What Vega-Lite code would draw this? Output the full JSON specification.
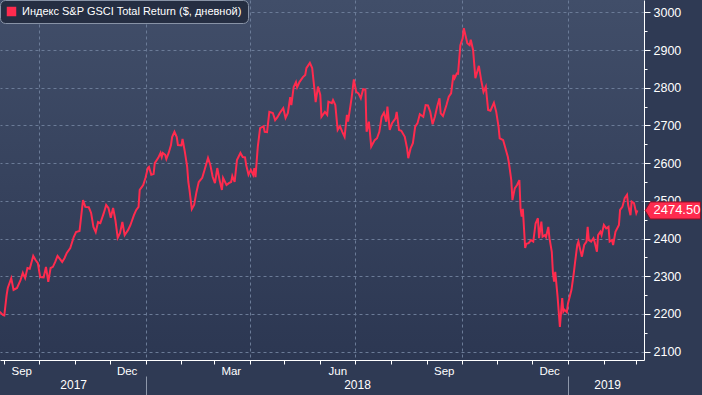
{
  "$schema": "https://vega.github.io/schema/vega-lite/v6.json",
  "width": 644,
  "height": 360,
  "autosize": {"type": "none"},
  "padding": {"left": 0, "top": 0, "right": 58, "bottom": 35},
  "background": "#2f3a54",
  "config": {
    "font": "Liberation Sans",
    "view": {
      "stroke": null,
      "fill": {"gradient": "linear", "x1": 0, "y1": 0, "x2": 0, "y2": 1,
        "stops": [{"offset": 0, "color": "#414e69"}, {"offset": 1, "color": "#2c3752"}]}
    }
  },
  "datasets": {
    "series": [
      {"date":"2017-08-28","value":2206},{"date":"2017-08-31","value":2197},{"date":"2017-09-01","value":2196},{"date":"2017-09-03","value":2250},{"date":"2017-09-04","value":2269},{"date":"2017-09-07","value":2295},{"date":"2017-09-09","value":2264},{"date":"2017-09-12","value":2269},{"date":"2017-09-15","value":2290},{"date":"2017-09-17","value":2309},{"date":"2017-09-19","value":2295},{"date":"2017-09-21","value":2322},{"date":"2017-09-23","value":2320},{"date":"2017-09-26","value":2354},{"date":"2017-09-28","value":2343},{"date":"2017-09-30","value":2335},
      {"date":"2017-10-02","value":2298},{"date":"2017-10-05","value":2297},{"date":"2017-10-07","value":2325},{"date":"2017-10-09","value":2285},{"date":"2017-10-11","value":2322},{"date":"2017-10-13","value":2325},{"date":"2017-10-15","value":2338},{"date":"2017-10-17","value":2354},{"date":"2017-10-19","value":2346},{"date":"2017-10-21","value":2338},{"date":"2017-10-23","value":2348},{"date":"2017-10-25","value":2362},{"date":"2017-10-28","value":2375},{"date":"2017-10-31","value":2404},
      {"date":"2017-11-02","value":2417},{"date":"2017-11-05","value":2420},{"date":"2017-11-08","value":2502},{"date":"2017-11-10","value":2484},{"date":"2017-11-13","value":2483},{"date":"2017-11-15","value":2468},{"date":"2017-11-17","value":2431},{"date":"2017-11-19","value":2417},{"date":"2017-11-21","value":2444},{"date":"2017-11-23","value":2441},{"date":"2017-11-26","value":2468},{"date":"2017-11-28","value":2489},{"date":"2017-11-30","value":2481},
      {"date":"2017-12-02","value":2455},{"date":"2017-12-04","value":2481},{"date":"2017-12-06","value":2449},{"date":"2017-12-08","value":2402},{"date":"2017-12-10","value":2415},{"date":"2017-12-12","value":2444},{"date":"2017-12-14","value":2409},{"date":"2017-12-17","value":2423},{"date":"2017-12-19","value":2436},{"date":"2017-12-22","value":2462},{"date":"2017-12-24","value":2476},{"date":"2017-12-26","value":2484},{"date":"2017-12-27","value":2529},{"date":"2017-12-30","value":2542},
      {"date":"2018-01-01","value":2561},{"date":"2018-01-03","value":2587},{"date":"2018-01-04","value":2590},{"date":"2018-01-06","value":2569},{"date":"2018-01-08","value":2571},{"date":"2018-01-09","value":2600},{"date":"2018-01-12","value":2614},{"date":"2018-01-14","value":2627},{"date":"2018-01-15","value":2616},{"date":"2018-01-16","value":2627},{"date":"2018-01-18","value":2622},{"date":"2018-01-19","value":2611},{"date":"2018-01-21","value":2627},{"date":"2018-01-23","value":2648},{"date":"2018-01-24","value":2669},{"date":"2018-01-26","value":2683},{"date":"2018-01-28","value":2669},{"date":"2018-01-29","value":2648},
      {"date":"2018-02-01","value":2647},{"date":"2018-02-02","value":2664},{"date":"2018-02-04","value":2630},{"date":"2018-02-06","value":2590},{"date":"2018-02-07","value":2550},{"date":"2018-02-08","value":2529},{"date":"2018-02-10","value":2478},{"date":"2018-02-12","value":2489},{"date":"2018-02-14","value":2523},{"date":"2018-02-16","value":2550},{"date":"2018-02-19","value":2561},{"date":"2018-02-21","value":2582},{"date":"2018-02-24","value":2614},{"date":"2018-02-26","value":2595},{"date":"2018-02-28","value":2564},
      {"date":"2018-03-02","value":2547},{"date":"2018-03-04","value":2587},{"date":"2018-03-06","value":2555},{"date":"2018-03-08","value":2529},{"date":"2018-03-09","value":2561},{"date":"2018-03-12","value":2542},{"date":"2018-03-14","value":2547},{"date":"2018-03-16","value":2550},{"date":"2018-03-17","value":2566},{"date":"2018-03-19","value":2550},{"date":"2018-03-21","value":2608},{"date":"2018-03-24","value":2627},{"date":"2018-03-26","value":2616},{"date":"2018-03-28","value":2615},{"date":"2018-03-29","value":2595},{"date":"2018-03-31","value":2569},
      {"date":"2018-04-02","value":2582},{"date":"2018-04-04","value":2569},{"date":"2018-04-05","value":2587},{"date":"2018-04-06","value":2563},{"date":"2018-04-08","value":2643},{"date":"2018-04-10","value":2693},{"date":"2018-04-13","value":2698},{"date":"2018-04-14","value":2683},{"date":"2018-04-16","value":2682},{"date":"2018-04-18","value":2736},{"date":"2018-04-21","value":2733},{"date":"2018-04-23","value":2714},{"date":"2018-04-25","value":2722},{"date":"2018-04-27","value":2733},{"date":"2018-04-30","value":2746},
      {"date":"2018-05-02","value":2720},{"date":"2018-05-04","value":2733},{"date":"2018-05-06","value":2775},{"date":"2018-05-07","value":2754},{"date":"2018-05-09","value":2802},{"date":"2018-05-11","value":2815},{"date":"2018-05-12","value":2801},{"date":"2018-05-14","value":2815},{"date":"2018-05-17","value":2828},{"date":"2018-05-19","value":2834},{"date":"2018-05-20","value":2852},{"date":"2018-05-23","value":2866},{"date":"2018-05-25","value":2852},{"date":"2018-05-27","value":2794},{"date":"2018-05-28","value":2762},{"date":"2018-05-30","value":2803},
      {"date":"2018-06-01","value":2781},{"date":"2018-06-02","value":2723},{"date":"2018-06-05","value":2736},{"date":"2018-06-07","value":2728},{"date":"2018-06-08","value":2763},{"date":"2018-06-11","value":2759},{"date":"2018-06-12","value":2767},{"date":"2018-06-14","value":2754},{"date":"2018-06-16","value":2688},{"date":"2018-06-18","value":2698},{"date":"2018-06-20","value":2683},{"date":"2018-06-22","value":2670},{"date":"2018-06-24","value":2728},{"date":"2018-06-25","value":2710},{"date":"2018-06-28","value":2772},{"date":"2018-06-30","value":2822},
      {"date":"2018-07-02","value":2789},{"date":"2018-07-04","value":2785},{"date":"2018-07-06","value":2772},{"date":"2018-07-08","value":2796},{"date":"2018-07-10","value":2795},{"date":"2018-07-11","value":2683},{"date":"2018-07-13","value":2710},{"date":"2018-07-15","value":2644},{"date":"2018-07-18","value":2661},{"date":"2018-07-20","value":2666},{"date":"2018-07-22","value":2683},{"date":"2018-07-24","value":2723},{"date":"2018-07-26","value":2734},{"date":"2018-07-28","value":2710},{"date":"2018-07-29","value":2750},{"date":"2018-07-31","value":2688},
      {"date":"2018-08-02","value":2706},{"date":"2018-08-05","value":2719},{"date":"2018-08-06","value":2736},{"date":"2018-08-08","value":2688},{"date":"2018-08-10","value":2686},{"date":"2018-08-13","value":2670},{"date":"2018-08-15","value":2639},{"date":"2018-08-16","value":2613},{"date":"2018-08-18","value":2639},{"date":"2018-08-20","value":2653},{"date":"2018-08-22","value":2697},{"date":"2018-08-24","value":2706},{"date":"2018-08-26","value":2730},{"date":"2018-08-29","value":2723},{"date":"2018-08-31","value":2754},
      {"date":"2018-09-02","value":2753},{"date":"2018-09-04","value":2736},{"date":"2018-09-06","value":2703},{"date":"2018-09-08","value":2723},{"date":"2018-09-10","value":2750},{"date":"2018-09-12","value":2772},{"date":"2018-09-13","value":2732},{"date":"2018-09-15","value":2725},{"date":"2018-09-18","value":2754},{"date":"2018-09-20","value":2776},{"date":"2018-09-22","value":2785},{"date":"2018-09-24","value":2834},{"date":"2018-09-25","value":2825},{"date":"2018-09-27","value":2838},{"date":"2018-09-28","value":2837},{"date":"2018-09-30","value":2913},
      {"date":"2018-10-02","value":2931},{"date":"2018-10-03","value":2958},{"date":"2018-10-06","value":2918},{"date":"2018-10-08","value":2913},{"date":"2018-10-09","value":2927},{"date":"2018-10-11","value":2900},{"date":"2018-10-13","value":2825},{"date":"2018-10-15","value":2847},{"date":"2018-10-16","value":2858},{"date":"2018-10-18","value":2820},{"date":"2018-10-20","value":2789},{"date":"2018-10-22","value":2803},{"date":"2018-10-24","value":2741},{"date":"2018-10-26","value":2739},{"date":"2018-10-29","value":2760},{"date":"2018-10-31","value":2736},
      {"date":"2018-11-02","value":2697},{"date":"2018-11-03","value":2666},{"date":"2018-11-06","value":2661},{"date":"2018-11-08","value":2639},{"date":"2018-11-10","value":2617},{"date":"2018-11-11","value":2600},{"date":"2018-11-13","value":2555},{"date":"2018-11-14","value":2502},{"date":"2018-11-16","value":2533},{"date":"2018-11-18","value":2542},{"date":"2018-11-20","value":2555},{"date":"2018-11-21","value":2480},{"date":"2018-11-22","value":2458},{"date":"2018-11-23","value":2479},{"date":"2018-11-25","value":2375},{"date":"2018-11-26","value":2386},{"date":"2018-11-28","value":2388},{"date":"2018-11-30","value":2396},
      {"date":"2018-12-02","value":2392},{"date":"2018-12-04","value":2440},{"date":"2018-12-06","value":2454},{"date":"2018-12-07","value":2401},{"date":"2018-12-09","value":2445},{"date":"2018-12-10","value":2405},{"date":"2018-12-12","value":2409},{"date":"2018-12-13","value":2404},{"date":"2018-12-15","value":2431},{"date":"2018-12-16","value":2401},{"date":"2018-12-18","value":2365},{"date":"2018-12-19","value":2308},{"date":"2018-12-20","value":2286},{"date":"2018-12-21","value":2312},{"date":"2018-12-23","value":2246},{"date":"2018-12-24","value":2206},{"date":"2018-12-25","value":2166},{"date":"2018-12-27","value":2242},{"date":"2018-12-28","value":2206},{"date":"2018-12-29","value":2211},{"date":"2018-12-31","value":2205},
      {"date":"2019-01-01","value":2228},{"date":"2019-01-04","value":2264},{"date":"2019-01-06","value":2308},{"date":"2019-01-07","value":2334},{"date":"2019-01-09","value":2383},{"date":"2019-01-10","value":2392},{"date":"2019-01-11","value":2378},{"date":"2019-01-13","value":2352},{"date":"2019-01-15","value":2383},{"date":"2019-01-17","value":2392},{"date":"2019-01-18","value":2431},{"date":"2019-01-19","value":2396},{"date":"2019-01-21","value":2392},{"date":"2019-01-23","value":2401},{"date":"2019-01-24","value":2391},{"date":"2019-01-26","value":2365},{"date":"2019-01-27","value":2409},{"date":"2019-01-29","value":2418},{"date":"2019-01-30","value":2409},
      {"date":"2019-02-01","value":2436},{"date":"2019-02-03","value":2427},{"date":"2019-02-05","value":2431},{"date":"2019-02-06","value":2392},{"date":"2019-02-08","value":2396},{"date":"2019-02-09","value":2383},{"date":"2019-02-11","value":2418},{"date":"2019-02-14","value":2436},{"date":"2019-02-15","value":2476},{"date":"2019-02-17","value":2484},{"date":"2019-02-19","value":2507},{"date":"2019-02-21","value":2516},{"date":"2019-02-22","value":2489},{"date":"2019-02-24","value":2462},{"date":"2019-02-25","value":2498},{"date":"2019-02-27","value":2494},{"date":"2019-03-01","value":2467},{"date":"2019-03-02","value":2474.5}
    ],
    "last": [{"date": "2019-03-02", "value": 2474.5}],
    "yearLabels": [{"date": "2017-10-30T12:00:00Z"}, {"date": "2018-07-02T17:00:00Z"}, {"date": "2019-02-03T19:00:00Z"}],
    "yearBreaks": [{"date": "2018-01-01"}, {"date": "2019-01-01"}]
  },
  "resolve": {"axis": {"x": "independent", "y": "independent"}},
  "layer": [
    {
      "data": {"name": "series"},
      "mark": {"type": "line", "color": "#ff2b4e", "strokeWidth": 2},
      "encoding": {
        "x": {
          "field": "date", "type": "temporal",
          "scale": {"type": "utc", "domain": [{"year": 2017, "month": 8, "date": 28, "hours": 7, "utc": true}, {"year": 2019, "month": 3, "date": 7, "hours": 16, "utc": true}]},
          "axis": {
            "orient": "bottom", "title": null,
            "tickCount": {"interval": "month", "step": 1},
            "labelExpr": "(utcmonth(datum.value) % 3 === 2 && datum.value < datetime(2019, 1, 15)) ? utcFormat(datum.value, '%b') : ''",
            "labelOffset": 17, "labelFlush": false, "labelOverlap": false, "labelBound": false,
            "labelColor": "#ffffff", "labelFontSize": 11.5, "labelPadding": 1,
            "tickColor": "#ffffff", "tickSize": 4, "domainColor": "#ffffff", "domainWidth": 1,
            "gridColor": "#6b7b97", "gridDash": [3, 3],
            "gridOpacity": {"condition": {"test": "utcmonth(datum.value) % 3 === 0", "value": 1}, "value": 0}
          }
        },
        "y": {
          "field": "value", "type": "quantitative",
          "scale": {"domain": [2078, 3032.6], "nice": false, "zero": false},
          "axis": {
            "orient": "right", "title": null,
            "values": [2100, 2150, 2200, 2250, 2300, 2350, 2400, 2450, 2500, 2550, 2600, 2650, 2700, 2750, 2800, 2850, 2900, 2950, 3000],
            "format": "d",
            "labelExpr": "datum.value % 100 === 0 ? datum.label : ''",
            "labelColor": "#ffffff", "labelFontSize": 12.5, "labelPadding": 3, "labelOverlap": false, "labelFlush": false,
            "tickColor": "#ffffff",
            "tickSize": {"condition": {"test": "datum.value % 100 === 0", "value": 6}, "value": 3},
            "domainColor": "#ffffff", "domainWidth": 1,
            "gridColor": "#6b7b97", "gridDash": [3, 3],
            "gridOpacity": {"condition": {"test": "datum.value % 100 === 0", "value": 1}, "value": 0}
          }
        }
      }
    },
    {
      "data": {"name": "yearLabels"},
      "mark": {"type": "rule", "opacity": 0},
      "encoding": {
        "x": {
          "field": "date", "type": "temporal", "scale": {"type": "utc"},
          "axis": {
            "orient": "bottom", "title": null, "grid": false, "domain": false, "ticks": false, "tickSize": 0,
            "values": [{"year": 2017, "month": 10, "date": 30, "hours": 12, "utc": true}, {"year": 2018, "month": 7, "date": 2, "hours": 17, "utc": true}, {"year": 2019, "month": 2, "date": 3, "hours": 19, "utc": true}],
            "labelExpr": "utcFormat(datum.value, '%Y')",
            "labelFlush": false, "labelOverlap": false, "labelBound": false,
            "labelColor": "#ffffff", "labelFontSize": 12, "labelPadding": 19
          }
        }
      }
    },
    {
      "data": {"name": "yearBreaks"},
      "mark": {"type": "rule", "opacity": 0},
      "encoding": {
        "x": {
          "field": "date", "type": "temporal", "scale": {"type": "utc"},
          "axis": {
            "orient": "bottom", "title": null, "grid": false, "domain": false, "labels": false,
            "values": [{"year": 2018, "month": 1, "date": 1, "utc": true}, {"year": 2019, "month": 1, "date": 1, "utc": true}],
            "offset": 16, "tickSize": 20, "tickColor": "#8d97aa", "tickWidth": 1
          }
        }
      }
    },
    {
      "data": {"name": "last"},
      "mark": {"type": "point", "shape": "M0.51,0 L0.85,-0.57 L4.2,-0.57 L4.2,0.57 L0.85,0.57 Z", "size": 900, "filled": true, "opacity": 1, "stroke": "#8a1026", "strokeWidth": 1},
      "encoding": {
        "x": {"field": "date", "type": "temporal", "scale": {"type": "utc"}, "axis": null},
        "y": {"field": "value", "type": "quantitative", "axis": null},
        "color": {
          "datum": "Индекс S&P GSCI Total Return ($, дневной)",
          "scale": {"range": ["#ff2b4e"]},
          "legend": {
            "title": null, "orient": "top-left", "offset": 0, "padding": 6,
            "fillColor": "#252e42", "strokeColor": "#8893a6", "cornerRadius": 5,
            "symbolType": "square", "symbolSize": 90, "symbolStrokeWidth": 0,
            "labelColor": "#ffffff", "labelFontSize": 11, "labelLimit": 400, "labelOffset": 5
          }
        }
      }
    },
    {
      "data": {"name": "last"},
      "mark": {"type": "text", "align": "left", "baseline": "middle", "dx": 16, "color": "#ffffff", "fontSize": 13},
      "encoding": {
        "x": {"field": "date", "type": "temporal", "scale": {"type": "utc"}, "axis": null},
        "y": {"field": "value", "type": "quantitative", "axis": null},
        "text": {"field": "value", "type": "quantitative", "format": ".2f"}
      }
    }
  ]
}
